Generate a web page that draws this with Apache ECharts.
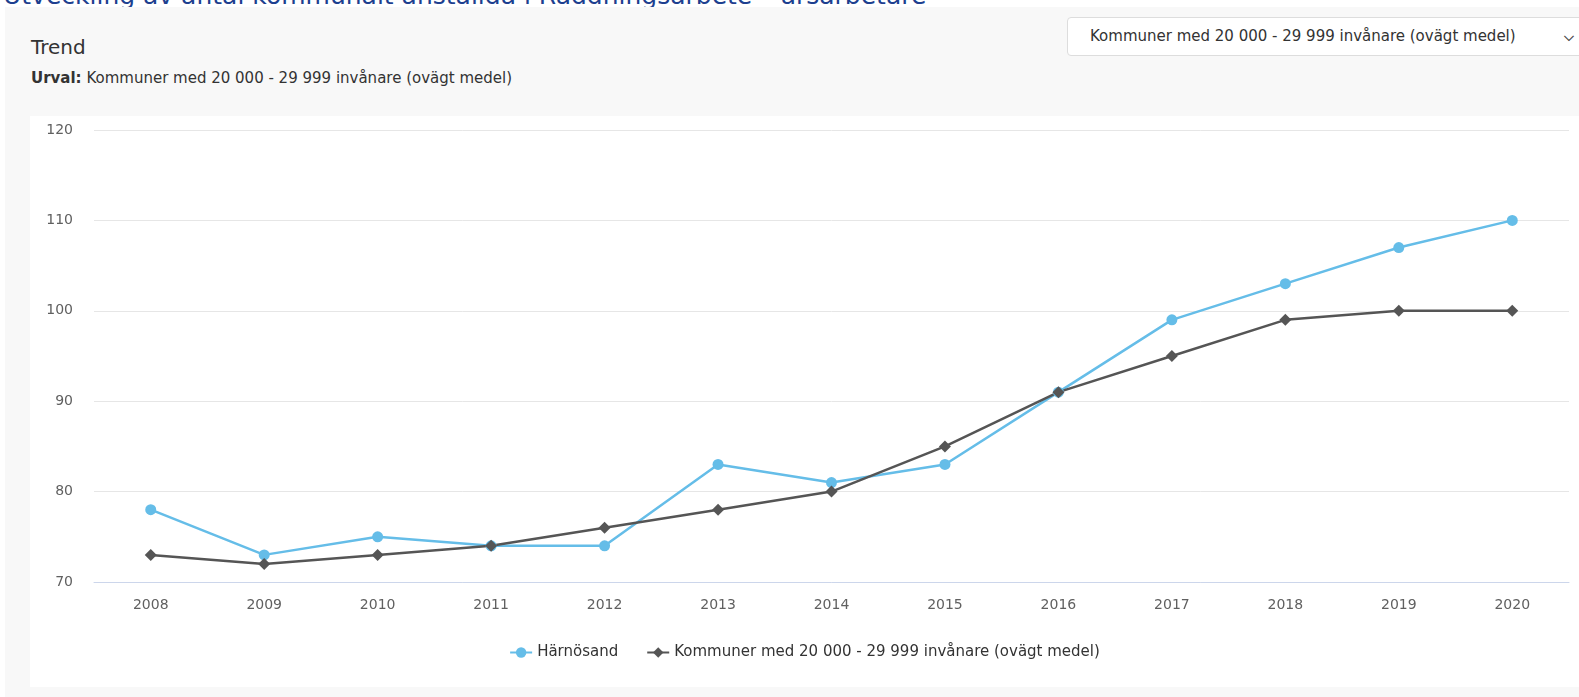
<!DOCTYPE html>
<html>
<head>
<meta charset="utf-8">
<script src="https://cdn.jsdelivr.net/npm/echarts@6/dist/echarts.min.js"></script>
<style>
  html, body {
    margin: 0;
    padding: 0;
    width: 1579px;
    height: 697px;
    overflow: hidden;
    background: #ffffff;
    font-family: 'DejaVu Sans', sans-serif;
  }
  .page-title {
    position: absolute;
    left: 3px;
    top: -19px;
    font-size: 25px;
    color: #1d3f8f;
    white-space: nowrap;
  }
  .panel {
    position: absolute;
    left: 5px;
    top: 7px;
    width: 1574px;
    height: 690px;
    background: #f8f8f8;
  }
  .trend-title {
    position: absolute;
    left: 31px;
    top: 35px;
    font-size: 20px;
    color: #333;
  }
  .urval {
    position: absolute;
    left: 31px;
    top: 69px;
    font-size: 15px;
    color: #333;
  }
  .dropdown {
    position: absolute;
    left: 1067px;
    top: 17px;
    width: 520px;
    height: 39px;
    background: #fff;
    border: 1px solid #ddd;
    border-radius: 4px;
    box-sizing: border-box;
    font-size: 15px;
    color: #333;
    line-height: 37px;
    padding-left: 22px;
  }
  .dropdown .chevron {
    position: absolute;
    left: 496px;
    top: 0;
    font-size: 13px;
    font-weight: bold;
    color: #444;
  }
  #chart {
    position: absolute;
    left: 30px;
    top: 116px;
    width: 1549px;
    height: 571px;
    background: #ffffff;
  }
</style>
</head>
<body>
<div class="page-title">Utveckling av antal kommunalt anställda i Räddningsarbete – årsarbetare</div>
<div class="panel"></div>
<div class="trend-title">Trend</div>
<div class="urval"><b>Urval:</b> Kommuner med 20 000 - 29 999 invånare (ovägt medel)</div>
<div class="dropdown">Kommuner med 20 000 - 29 999 invånare (ovägt medel)<span class="chevron">&#x2335;</span></div>
<div id="chart"></div>
<script>
// årtal på x-axeln
const years = ['2008', '2009', '2010', '2011', '2012', '2013', '2014',
  '2015', '2016', '2017', '2018', '2019', '2020']

// Härnösand
const harnosandValues = [78, 73, 75, 74, 74, 83, 81, 83, 91, 99, 103, 107, 110]

// jämförelsegrupp
const kommunerValues = [73, 72, 73, 74, 76, 78, 80, 85, 91, 95, 99, 100, 100]

const seriesNames = ['Härnösand', 'Kommuner med 20 000 - 29 999 invånare (ovägt medel)']

const chart = echarts.init(document.getElementById('chart'))

chart.setOption({
  animation: false,
  textStyle: {
    fontFamily: "'DejaVu Sans', sans-serif",
  },
  grid: {
    left: 64,
    right: 10,
    top: 14,
    bottom: 105,
  },
  legend: {
    top: 524,
    left: 'center',
    itemGap: 28,
    itemWidth: 22,
    itemHeight: 13,
    textStyle: {
      fontSize: 15,
      color: '#333',
    },
    data: seriesNames,
  },
  xAxis: {
    type: 'category',
    data: years,
    boundaryGap: true,
    axisLine: {
      lineStyle: { color: '#ccd6eb', width: 1 },
    },
    axisTick: { show: false },
    axisLabel: {
      color: '#606060',
      fontSize: 14,
      margin: 16,
    },
  },
  yAxis: {
    type: 'value',
    min: 70,
    max: 120,
    interval: 10,
    axisLine: { show: false },
    axisTick: { show: false },
    axisLabel: {
      color: '#606060',
      fontSize: 14,
      margin: 21,
    },
    splitLine: {
      lineStyle: { color: '#e6e6e6', width: 1 },
    },
  },
  series: [
    {
      name: seriesNames[0],
      type: 'line',
      data: harnosandValues,
      symbol: 'circle',
      symbolSize: 11,
      itemStyle: { color: '#65bde8' },
      lineStyle: { color: '#65bde8', width: 2.5 },
    },
    {
      name: seriesNames[1],
      type: 'line',
      data: kommunerValues,
      symbol: 'diamond',
      symbolSize: 12,
      itemStyle: { color: '#555555' },
      lineStyle: { color: '#555555', width: 2.5 },
    },
  ],
})
</script>
</body>
</html>
